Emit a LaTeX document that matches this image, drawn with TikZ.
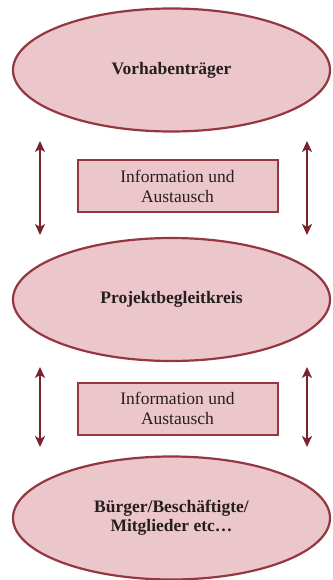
\documentclass[tikz,border=0pt]{standalone}
\usepackage{fontspec}
\setmainfont{Liberation Serif}
\usetikzlibrary{shapes.geometric,arrows.meta}
\definecolor{pinkfill}{RGB}{235,198,202}
\definecolor{rimred}{RGB}{148,55,65}
\definecolor{arrowred}{RGB}{120,36,46}
\definecolor{txt}{RGB}{38,30,32}
\tikzset{
  oval/.style={ellipse, draw=rimred, fill=pinkfill, line width=2.2pt,
    minimum width=317pt, minimum height=123pt, inner sep=0pt,
    align=center, text=txt, font=\fontsize{17.5}{19.5}\selectfont\bfseries},
  infobox/.style={rectangle, draw=rimred, fill=pinkfill, line width=2pt,
    minimum width=200pt, minimum height=52pt, inner sep=0pt,
    align=center, text=txt, font=\fontsize{17.5}{20}\selectfont},
  dblarrow/.style={draw=arrowred, line width=2pt,
    {Stealth[length=11pt,width=10pt,inset=3pt]}-{Stealth[length=11pt,width=10pt,inset=3pt]}}
}
\begin{document}
\begin{tikzpicture}[x=1pt,y=1pt]
\useasboundingbox (0,0) rectangle (332,-580);
\node[oval] (vt) at (171.5,-70) {Vorhabenträger};
\node[infobox] (ia1) at (177.5,-186) {Information und\\Austausch};
\node[oval] (pb) at (171.5,-299.5) {Projektbegleitkreis};
\node[infobox] (ia2) at (177.5,-408.5) {Information und\\Austausch};
\node[oval] (bg) at (171.5,-518) {Bürger/Beschäftigte/\\Mitglieder etc…};
\coordinate (l1t) at (40,-141);
\coordinate (l1b) at (40,-235);
\coordinate (r1t) at (307,-141);
\coordinate (r1b) at (307,-235);
\coordinate (l2t) at (40,-367);
\coordinate (l2b) at (40,-447);
\coordinate (r2t) at (307,-367);
\coordinate (r2b) at (307,-447);
\draw[dblarrow] (l1t) -- (l1b);
\draw[dblarrow] (r1t) -- (r1b);
\draw[dblarrow] (l2t) -- (l2b);
\draw[dblarrow] (r2t) -- (r2b);
\end{tikzpicture}
\end{document}
